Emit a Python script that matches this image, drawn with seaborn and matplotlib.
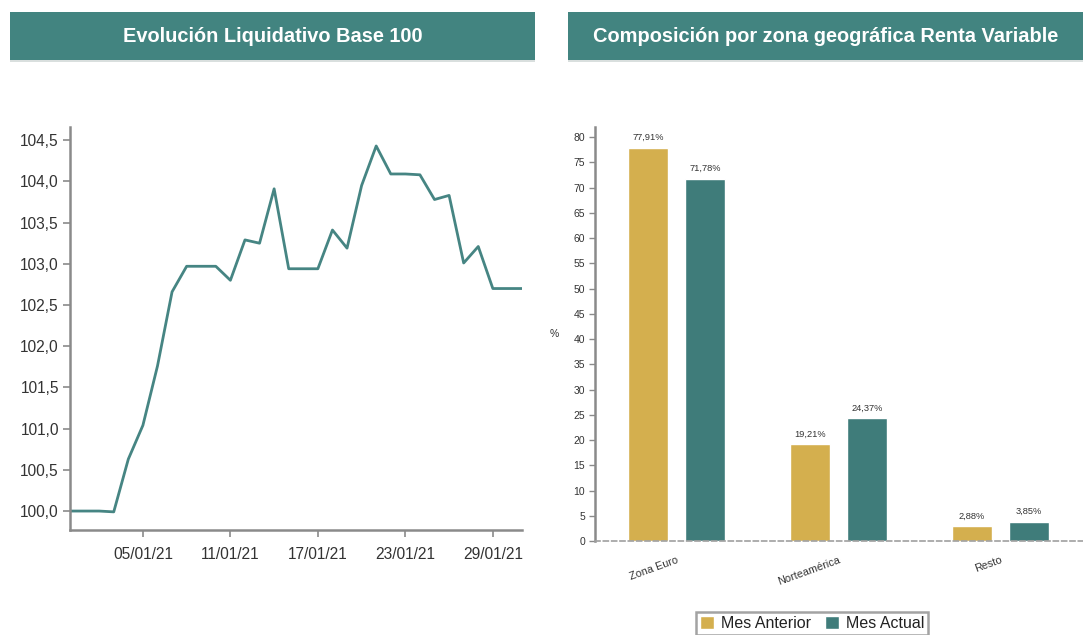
import numpy as np
import pandas as pd
import matplotlib
matplotlib.use("Agg")
import matplotlib.pyplot as plt
import matplotlib.dates as mdates
from matplotlib.patches import Rectangle
from matplotlib.ticker import FuncFormatter, MultipleLocator
import seaborn as sns

# ---------------- data ----------------
dates = pd.date_range("2020-12-31", "2021-01-31", freq="D")
nav_values = [100.00, 100.00, 100.00, 99.99, 100.63, 101.04, 101.76, 102.66,
              102.97, 102.97, 102.97, 102.80, 103.29, 103.25, 103.91, 102.94,
              102.94, 102.94, 103.41, 103.19, 103.95, 104.43, 104.09, 104.09,
              104.08, 103.78, 103.83, 103.01, 103.21, 102.70, 102.70, 102.70]

zones = ["Zona Euro", "Norteamérica", "Resto"]
series_names = ["Mes Anterior", "Mes Actual"]
mes_anterior = [77.91, 19.21, 2.88]
mes_actual = [71.78, 24.37, 3.85]

title_left = "Evolución Liquidativo Base 100"
title_right = "Composición por zona geográfica Renta Variable"

# ---------------- style ----------------
sns.set_theme(style="white")
plt.rcParams["font.family"] = ["Liberation Sans", "DejaVu Sans"]

TEAL = "#3f7c7a"
HEADER = "#428480"
GOLD = "#d4af4e"
LINE = "#468583"
AXIS_GREY = "#8a8a8a"
TXT = "#333333"

W, H = 1083, 635
fig = plt.figure(figsize=(W / 100, H / 100), dpi=100)
fig.patch.set_facecolor("white")


def fr(x0, y0, x1, y1):
    """pixel box (top-left origin) -> figure fraction rect"""
    return [x0 / W, 1 - y1 / H, (x1 - x0) / W, (y1 - y0) / H]


# ---------------- headers ----------------
for (x0, x1, txt) in [(10, 535, title_left), (568, 1090, title_right)]:
    fig.patches.append(Rectangle((x0 / W, 1 - 62 / H), (x1 - x0) / W, 50 / H,
                                 transform=fig.transFigure, facecolor="#d9dfde",
                                 edgecolor="none", zorder=0))
    fig.patches.append(Rectangle((x0 / W, 1 - 60 / H), (x1 - x0) / W, 48 / H,
                                 transform=fig.transFigure, facecolor=HEADER,
                                 edgecolor="none", zorder=1))
    xc = (x0 + min(x1, 1083)) / 2
    fig.text(xc / W, 1 - 37 / H, txt, color="white", fontsize=14.4,
             fontweight="bold", ha="center", va="center", zorder=2)

# ---------------- left: line chart ----------------
ax1 = fig.add_axes(fr(70, 127, 522, 530))
df_nav = pd.DataFrame({"fecha": dates, "valor": nav_values})
sns.lineplot(data=df_nav, x="fecha", y="valor", ax=ax1, color=LINE,
             linewidth=2.0)
ax1.set_xlim(pd.Timestamp("2020-12-31"), pd.Timestamp("2021-01-31"))
ax1.set_ylim(99.77, 104.66)
ax1.yaxis.set_major_locator(MultipleLocator(0.5))
ax1.yaxis.set_major_formatter(FuncFormatter(lambda v, p: f"{v:.1f}".replace(".", ",")))
ax1.xaxis.set_major_locator(mdates.DayLocator(bymonthday=[5, 11, 17, 23, 29]))
ax1.xaxis.set_major_formatter(mdates.DateFormatter("%d/%m/%y"))
ax1.set_xlabel("")
ax1.set_ylabel("")
for s in ["top", "right"]:
    ax1.spines[s].set_visible(False)
for s in ["left", "bottom"]:
    ax1.spines[s].set_color(AXIS_GREY)
    ax1.spines[s].set_linewidth(1.8)
ax1.tick_params(axis="both", which="major", length=5, width=1.2,
                color=AXIS_GREY, labelsize=11.2, labelcolor=TXT, pad=3,
                direction="out", left=True, bottom=True)
ax1.tick_params(axis="x", pad=7)

# ---------------- right: bar chart ----------------
ax2 = fig.add_axes(fr(595, 127, 1083, 541))
df_bar = pd.DataFrame({
    "zona": zones * 2,
    "serie": [series_names[0]] * 3 + [series_names[1]] * 3,
    "pct": mes_anterior + mes_actual,
})
sns.barplot(data=df_bar, x="zona", y="pct", hue="serie", order=zones,
            hue_order=series_names, palette=[GOLD, TEAL], width=0.704,
            gap=0.30, ax=ax2, legend=True, saturation=1)
ax2.set_xlim(-0.503, 2.51)
ax2.set_ylim(0, 82)
ax2.yaxis.set_major_locator(MultipleLocator(5))
ax2.set_xlabel("")
ax2.set_ylabel("%", fontsize=7.5, color=TXT, rotation=0, labelpad=14,
               va="center")
for cont in ax2.containers:
    ax2.bar_label(cont, labels=[f"{v:.2f}%".replace(".", ",") for v in cont.datavalues],
                  fontsize=6.7, color=TXT, padding=4)
for s in ["top", "right"]:
    ax2.spines[s].set_visible(False)
ax2.spines["left"].set_color(AXIS_GREY)
ax2.spines["left"].set_linewidth(1.8)
ax2.spines["bottom"].set_color("#a0a0a0")
ax2.spines["bottom"].set_linewidth(1.2)
ax2.spines["bottom"].set_linestyle((0, (3, 2)))
ax2.tick_params(axis="y", length=4, width=1.0, color=AXIS_GREY,
                labelsize=7.5, labelcolor=TXT, left=True, pad=3)
ax2.tick_params(axis="x", length=0, labelsize=7.8, labelcolor=TXT, pad=10)
for lab in ax2.get_xticklabels():
    lab.set_rotation(20)
    lab.set_ha("right")
    lab.set_rotation_mode("anchor")

leg = ax2.legend(loc="upper center", bbox_to_anchor=(812 / W, 1 - 612 / H),
                 bbox_transform=fig.transFigure, ncol=2, frameon=True,
                 fancybox=False, fontsize=11.5, handlelength=0.9,
                 handleheight=0.9, handletextpad=0.4, columnspacing=0.9,
                 borderpad=0.25, borderaxespad=0)
leg.get_frame().set_edgecolor("#8c8c8c")
leg.get_frame().set_linewidth(1.8)
for t in leg.get_texts():
    t.set_color("#222222")

fig.savefig("out.png", dpi=100, facecolor="white")
